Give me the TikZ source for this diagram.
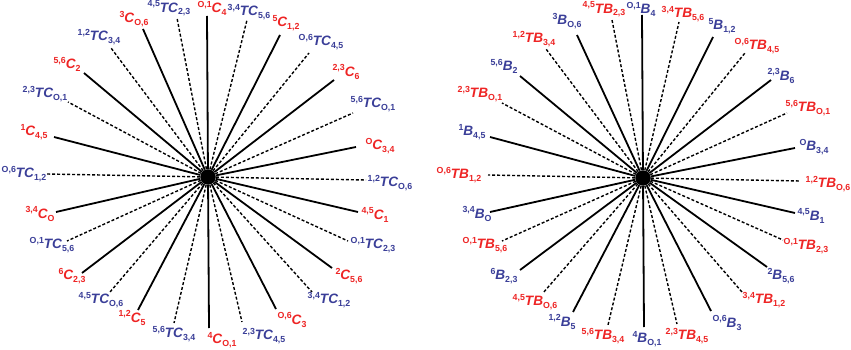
\documentclass[tikz,border=0pt]{standalone}
\usepackage{fontspec}
\setmainfont{Liberation Sans}
\definecolor{cred}{RGB}{238,36,36}
\definecolor{cblue}{RGB}{58,62,152}
\newcommand{\wlab}[3]{\bfseries\fontsize{8.8}{10}\selectfont\raisebox{5.3pt}{#1}\fontsize{13.6}{15}\selectfont\itshape #2\upshape\fontsize{8.8}{10}\selectfont\raisebox{-2.8pt}{#3}}
\begin{document}
\begin{tikzpicture}[x=1pt,y=-1pt,
  solidspoke/.style={line width=1.8pt,black},
  dashspoke/.style={line width=1.4pt,black,dash pattern=on 3pt off 2pt},
  hubdot/.style={circle,fill=black,inner sep=0pt,minimum size=15.5pt},
  lab/.style={inner sep=0pt,anchor=center}]
\useasboundingbox (0,0) rectangle (851,350);
\fill[white] (0,0) rectangle (851,350);
\node[hubdot] (hubL) at (208,177) {};
\node[hubdot] (hubR) at (643,178) {};
% left wheel
\foreach \k/\ex/\ey/\lx/\ly/\a/\c in {0/207/16/212/8.5/{O,1}/4, 1/177/18/169/8.5/{4,5}/{2,3}, 2/143/29/134/19/3/{O,6}, 3/111/48/99/37/{1,2}/{3,4}, 4/84/73/67/64/{5,6}/2, 5/68/102/45/94/{2,3}/{O,1}, 6/54/137/34/132/1/{4,5}, 7/47/174/24/174/{O,6}/{1,2}, 8/56/212/40/214/{3,4}/O, 9/67/241/52/245/{O,1}/{5,6}, 10/82/273/72/276/6/{2,3}, 11/110/292/101/300/{4,5}/{O,6}, 12/138/310/132/318/{1,2}/5, 13/174/323/174/334/{5,6}/{3,4}, 14/209/328/222/340/4/{O,1}, 15/242/322/264/336/{2,3}/{4,5}, 16/276/309/292/320/{O,6}/3, 17/312/292/329/300/{3,4}/{1,2}, 18/332/268/349/276/2/{5,6}, 19/348/241/373/245/{O,1}/{2,3}, 20/358/212/375/215/{4,5}/1, 21/366/180/390/183/{1,2}/{O,6}, 22/356/147/380/146/O/{3,4}, 23/353/113/373/104/{5,6}/{O,1}, 24/334/80/346/72/{2,3}/6, 25/309/53/321/42/{O,6}/{4,5}, 26/280/35/286/23/5/{1,2}, 27/247/20/249/12/{3,4}/{5,6}}{
  \pgfmathtruncatemacro\odd{mod(\k,2)}
  \coordinate (eL\k) at (\ex,\ey);
  \ifnum\odd=0
    \draw[solidspoke] (hubL) -- (eL\k);
    \node[lab,text=cred] (lL\k) at (\lx,\ly) {\wlab{\a}{C}{\c}};
  \else
    \draw[dashspoke] (hubL) -- (eL\k);
    \node[lab,text=cblue] (lL\k) at (\lx,\ly) {\wlab{\a}{TC}{\c}};
  \fi
}
% right wheel
\foreach \k/\ex/\ey/\lx/\ly/\a/\c in {0/642/15/641/9/{O,1}/4, 1/612/20/604/9.5/{4,5}/{2,3}, 2/577/35/567/21/3/{O,6}, 3/546/49/534/39/{1,2}/{3,4}, 4/520/76/504/66/{5,6}/2, 5/502/103/480/94/{2,3}/{O,1}, 6/490/137/472/132/1/{4,5}, 7/488/175/459/175/{O,6}/{1,2}, 8/490/212/477/214/{3,4}/O, 9/502/241/485/245/{O,1}/{5,6}, 10/520/270/504/276/6/{2,3}, 11/543/293/535/302/{4,5}/{O,6}, 12/573/312/562/322/{1,2}/5, 13/608/325/603/336/{5,6}/{3,4}, 14/644/327/647/339/4/{O,1}, 15/677/324/687/336/{2,3}/{4,5}, 16/711/311/727/323/{O,6}/3, 17/742/292/764/300/{3,4}/{1,2}, 18/767/267/781/276/2/{5,6}, 19/783/240/806/246/{O,1}/{2,3}, 20/795/213/811/216/{4,5}/1, 21/800/181/828/184/{1,2}/{O,6}, 22/795/148/814/147/O/{3,4}, 23/787/113/808/108/{5,6}/{O,1}, 24/771/80/781/76/{2,3}/6, 25/745/53/757/46/{O,6}/{4,5}, 26/713/37/722/26/5/{1,2}, 27/679/22/683/14/{3,4}/{5,6}}{
  \pgfmathtruncatemacro\odd{mod(\k,2)}
  \coordinate (eR\k) at (\ex,\ey);
  \ifnum\odd=0
    \draw[solidspoke] (hubR) -- (eR\k);
    \node[lab,text=cblue] (lR\k) at (\lx,\ly) {\wlab{\a}{B}{\c}};
  \else
    \draw[dashspoke] (hubR) -- (eR\k);
    \node[lab,text=cred] (lR\k) at (\lx,\ly) {\wlab{\a}{TB}{\c}};
  \fi
}
\end{tikzpicture}
\end{document}
